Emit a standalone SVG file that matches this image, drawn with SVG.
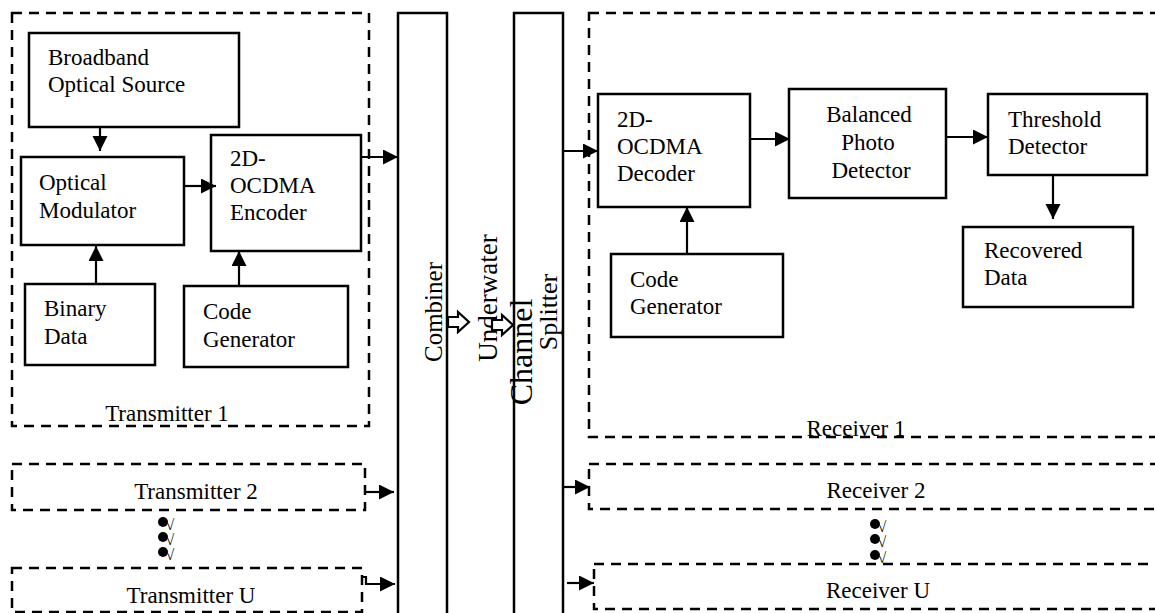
<svg xmlns="http://www.w3.org/2000/svg" width="1155" height="613" viewBox="0 0 1155 613">
<style>
  .box { fill: #fff; stroke: #000; stroke-width: 2.5; }
  .dash { fill: none; stroke: #000; stroke-width: 2.5; stroke-dasharray: 10 7; }
  .bar { fill: #fff; stroke: #000; stroke-width: 2.5; }
  .t { font-family: "Liberation Serif", "Times New Roman", serif; font-size: 23px; fill: #000; }
  .c { text-anchor: middle; }
  .v { font-size: 15px; }
  .ln { stroke: #000; stroke-width: 2.2; fill: none; marker-end: url(#ah); }
  .hollow { fill: #fff; stroke: #000; stroke-width: 2.2; }
  .dot { fill: #000; }
</style>
<defs>
  <marker id="ah" markerUnits="userSpaceOnUse" markerWidth="16" markerHeight="16" refX="15" refY="7.5" orient="auto">
    <path d="M0,0 L15,7.5 L0,15 z" fill="#000"/>
  </marker>
</defs>
<rect width="1155" height="613" fill="#fff"/>

<!-- Transmitter 1 -->
<g id="transmitter1">
  <rect class="dash" x="12" y="13" width="357" height="413"/>
  <text class="t c" x="167" y="421">Transmitter 1</text>
</g>
<g id="broadband">
  <rect class="box" x="29" y="33" width="210" height="94"/>
  <text class="t" x="48" y="65">Broadband</text>
  <text class="t" x="48" y="92">Optical Source</text>
</g>
<g id="modulator">
  <rect class="box" x="21" y="157" width="163" height="88"/>
  <text class="t" x="39" y="190">Optical</text>
  <text class="t" x="39" y="218">Modulator</text>
</g>
<g id="encoder">
  <rect class="box" x="211" y="135" width="150" height="116"/>
  <text class="t" x="230" y="166">2D-</text>
  <text class="t" x="230" y="193">OCDMA</text>
  <text class="t" x="230" y="220">Encoder</text>
</g>
<g id="binary">
  <rect class="box" x="25" y="284" width="130" height="81"/>
  <text class="t" x="44" y="316">Binary</text>
  <text class="t" x="44" y="344">Data</text>
</g>
<g id="codegen-tx">
  <rect class="box" x="184" y="286" width="164" height="81"/>
  <text class="t" x="203" y="319">Code</text>
  <text class="t" x="203" y="347">Generator</text>
</g>

<!-- Transmitter 2 / U -->
<g id="transmitter2">
  <rect class="dash" x="12" y="464" width="353" height="46"/>
  <text class="t c" x="196" y="499">Transmitter 2</text>
</g>
<g id="tx-dots">
  <circle class="dot" cx="163" cy="522" r="5"/>
  <circle class="dot" cx="163" cy="537" r="5"/>
  <circle class="dot" cx="163" cy="552" r="5"/>
  <text class="t v" x="166" y="530">√</text>
  <text class="t v" x="166" y="545">√</text>
  <text class="t v" x="166" y="560">√</text>
</g>
<g id="transmitterU">
  <rect class="dash" x="12" y="568" width="350" height="44"/>
  <text class="t c" x="191" y="603">Transmitter U</text>
</g>

<!-- Combiner / Splitter / Channel -->
<g id="combiner">
  <rect class="bar" x="398" y="13" width="49" height="610"/>
  <text class="t c" transform="translate(442,312) rotate(-90)" style="font-size:25px">Combiner</text>
</g>
<g id="splitter">
  <rect class="bar" x="514" y="13" width="49" height="610"/>
  <text class="t c" transform="translate(557,312) rotate(-90)" style="font-size:26px">Splitter</text>
</g>
<g id="channel">
  <text class="t c" transform="translate(497,298) rotate(-90)" style="font-size:27px">Underwater</text>
  <text class="t c" transform="translate(532,352) rotate(-90)" style="font-size:32px">Channel</text>
</g>

<!-- Receiver 1 -->
<g id="receiver1">
  <rect class="dash" x="589" y="13" width="600" height="424"/>
  <text class="t c" x="856" y="436">Receiver 1</text>
</g>
<g id="decoder">
  <rect class="box" x="598" y="94" width="152" height="113"/>
  <text class="t" x="617" y="127">2D-</text>
  <text class="t" x="617" y="154">OCDMA</text>
  <text class="t" x="617" y="181">Decoder</text>
</g>
<g id="codegen-rx">
  <rect class="box" x="611" y="254" width="172" height="83"/>
  <text class="t" x="630" y="287">Code</text>
  <text class="t" x="630" y="314">Generator</text>
</g>
<g id="balanced">
  <rect class="box" x="789" y="89" width="157" height="109"/>
  <text class="t c" x="869" y="122">Balanced</text>
  <text class="t c" x="868" y="150">Photo</text>
  <text class="t c" x="871" y="178">Detector</text>
</g>
<g id="threshold">
  <rect class="box" x="988" y="94" width="159" height="81"/>
  <text class="t" x="1008" y="127">Threshold</text>
  <text class="t" x="1008" y="154">Detector</text>
</g>
<g id="recovered">
  <rect class="box" x="963" y="227" width="170" height="80"/>
  <text class="t" x="984" y="258">Recovered</text>
  <text class="t" x="984" y="285">Data</text>
</g>

<!-- Receiver 2 / U -->
<g id="receiver2">
  <rect class="dash" x="589" y="464" width="600" height="45"/>
  <text class="t c" x="876" y="498">Receiver 2</text>
</g>
<g id="rx-dots">
  <circle class="dot" cx="875" cy="524" r="5"/>
  <circle class="dot" cx="875" cy="539" r="5"/>
  <circle class="dot" cx="875" cy="555" r="5"/>
  <text class="t v" x="878" y="532">√</text>
  <text class="t v" x="878" y="547">√</text>
  <text class="t v" x="878" y="563">√</text>
</g>
<g id="receiverU">
  <rect class="dash" x="594" y="564" width="600" height="45"/>
  <text class="t c" x="878" y="598">Receiver U</text>
</g>

<!-- Connectors -->
<g id="connectors">
  <line class="ln" x1="100" y1="127" x2="100" y2="151"/>
  <line class="ln" x1="184" y1="186" x2="216" y2="186"/>
  <line class="ln" x1="96" y1="284" x2="96" y2="246"/>
  <line class="ln" x1="239" y1="286" x2="239" y2="251"/>
  <line class="ln" x1="362" y1="157" x2="398" y2="157"/>
  <line class="ln" x1="365" y1="492" x2="394" y2="492"/>
  <path class="ln" d="M362,577 L366,577 L366,584 L395,584"/>
  <path class="hollow" d="M448,317 L458,317 L458,312 L469,322 L458,332 L458,327 L448,327 z"/>
  <path class="hollow" d="M492,320 L502,320 L502,315 L513,325 L502,335 L502,330 L492,330 z"/>
  <line class="ln" x1="563" y1="151" x2="598" y2="151"/>
  <line class="ln" x1="687" y1="254" x2="687" y2="207"/>
  <line class="ln" x1="750" y1="139" x2="790" y2="139"/>
  <line class="ln" x1="946" y1="137" x2="988" y2="137"/>
  <line class="ln" x1="1053" y1="175" x2="1053" y2="219"/>
  <line class="ln" x1="563" y1="487" x2="590" y2="487"/>
  <line class="ln" x1="567" y1="583" x2="594" y2="583"/>
</g>
</svg>
